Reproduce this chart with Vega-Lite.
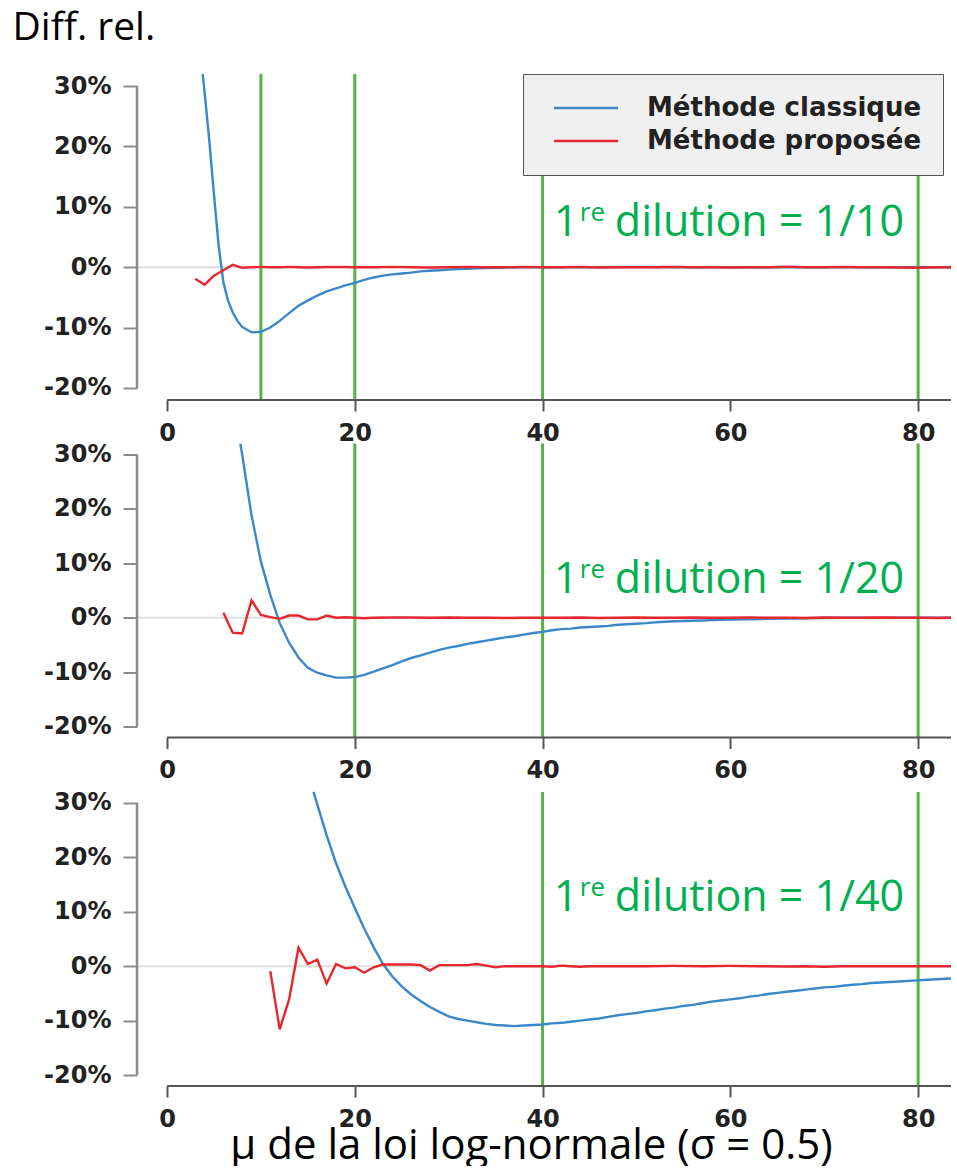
{
 "$schema": "https://vega.github.io/schema/vega-lite/v6.json",
 "background": "white",
 "padding": {"left": 12, "top": 8, "right": 0, "bottom": 0},
 "spacing": 43.5,
 "bounds": "flush",
 "resolve": {"scale": {"x": "independent", "y": "independent", "color": "independent"}},
 "datasets": {
  "c1": [
   {"methode":"Méthode classique","mu":3.8,"diff":32},{"methode":"Méthode classique","mu":4,"diff":29},{"methode":"Méthode classique","mu":4.5,"diff":21},{"methode":"Méthode classique","mu":5,"diff":12},{"methode":"Méthode classique","mu":5.5,"diff":3.5},{"methode":"Méthode classique","mu":6,"diff":-2.5},{"methode":"Méthode classique","mu":6.5,"diff":-5.6},{"methode":"Méthode classique","mu":7,"diff":-7.5},{"methode":"Méthode classique","mu":7.5,"diff":-8.9},{"methode":"Méthode classique","mu":8,"diff":-9.9},{"methode":"Méthode classique","mu":9,"diff":-10.8},{"methode":"Méthode classique","mu":10,"diff":-10.7},{"methode":"Méthode classique","mu":11,"diff":-10.0},{"methode":"Méthode classique","mu":12,"diff":-8.9},{"methode":"Méthode classique","mu":13,"diff":-7.6},{"methode":"Méthode classique","mu":14,"diff":-6.4},{"methode":"Méthode classique","mu":15,"diff":-5.5},{"methode":"Méthode classique","mu":16,"diff":-4.7},{"methode":"Méthode classique","mu":17,"diff":-4.0},{"methode":"Méthode classique","mu":18,"diff":-3.5},{"methode":"Méthode classique","mu":19,"diff":-3.0},{"methode":"Méthode classique","mu":20,"diff":-2.6},{"methode":"Méthode classique","mu":21,"diff":-2.1},{"methode":"Méthode classique","mu":22,"diff":-1.7},{"methode":"Méthode classique","mu":23,"diff":-1.4},{"methode":"Méthode classique","mu":24,"diff":-1.2},{"methode":"Méthode classique","mu":25,"diff":-1.05},{"methode":"Méthode classique","mu":26,"diff":-0.9},{"methode":"Méthode classique","mu":27,"diff":-0.7},{"methode":"Méthode classique","mu":28,"diff":-0.6},{"methode":"Méthode classique","mu":29,"diff":-0.5},{"methode":"Méthode classique","mu":30,"diff":-0.4},{"methode":"Méthode classique","mu":31,"diff":-0.3},{"methode":"Méthode classique","mu":32,"diff":-0.25},{"methode":"Méthode classique","mu":33,"diff":-0.2},{"methode":"Méthode classique","mu":34,"diff":-0.15},{"methode":"Méthode classique","mu":35,"diff":-0.1},{"methode":"Méthode classique","mu":36,"diff":-0.05},{"methode":"Méthode classique","mu":38,"diff":0},{"methode":"Méthode classique","mu":40,"diff":0},{"methode":"Méthode classique","mu":44,"diff":0},{"methode":"Méthode classique","mu":50,"diff":0.02},{"methode":"Méthode classique","mu":56,"diff":0},{"methode":"Méthode classique","mu":62,"diff":0},{"methode":"Méthode classique","mu":68,"diff":0},{"methode":"Méthode classique","mu":74,"diff":0},{"methode":"Méthode classique","mu":80,"diff":0},{"methode":"Méthode classique","mu":84,"diff":0},
   {"methode":"Méthode proposée","mu":3,"diff":-1.9},{"methode":"Méthode proposée","mu":4,"diff":-2.9},{"methode":"Méthode proposée","mu":5,"diff":-1.4},{"methode":"Méthode proposée","mu":6,"diff":-0.5},{"methode":"Méthode proposée","mu":7,"diff":0.4},{"methode":"Méthode proposée","mu":8,"diff":-0.1},{"methode":"Méthode proposée","mu":9,"diff":0},{"methode":"Méthode proposée","mu":10,"diff":0.05},{"methode":"Méthode proposée","mu":11,"diff":0},{"methode":"Méthode proposée","mu":12,"diff":0},{"methode":"Méthode proposée","mu":13,"diff":0.05},{"methode":"Méthode proposée","mu":14,"diff":0},{"methode":"Méthode proposée","mu":15,"diff":-0.05},{"methode":"Méthode proposée","mu":16,"diff":0},{"methode":"Méthode proposée","mu":18,"diff":0.05},{"methode":"Méthode proposée","mu":20,"diff":0},{"methode":"Méthode proposée","mu":22,"diff":0},{"methode":"Méthode proposée","mu":24,"diff":0.05},{"methode":"Méthode proposée","mu":26,"diff":0},{"methode":"Méthode proposée","mu":28,"diff":-0.05},{"methode":"Méthode proposée","mu":30,"diff":0},{"methode":"Méthode proposée","mu":32,"diff":0.05},{"methode":"Méthode proposée","mu":34,"diff":0},{"methode":"Méthode proposée","mu":36,"diff":0},{"methode":"Méthode proposée","mu":38,"diff":0.05},{"methode":"Méthode proposée","mu":40,"diff":0},{"methode":"Méthode proposée","mu":42,"diff":0},{"methode":"Méthode proposée","mu":44,"diff":0.05},{"methode":"Méthode proposée","mu":46,"diff":-0.05},{"methode":"Méthode proposée","mu":48,"diff":0},{"methode":"Méthode proposée","mu":50,"diff":0},{"methode":"Méthode proposée","mu":52,"diff":0},{"methode":"Méthode proposée","mu":54,"diff":0.05},{"methode":"Méthode proposée","mu":56,"diff":0},{"methode":"Méthode proposée","mu":58,"diff":0},{"methode":"Méthode proposée","mu":60,"diff":-0.05},{"methode":"Méthode proposée","mu":62,"diff":0},{"methode":"Méthode proposée","mu":64,"diff":0},{"methode":"Méthode proposée","mu":66,"diff":0.1},{"methode":"Méthode proposée","mu":68,"diff":0},{"methode":"Méthode proposée","mu":70,"diff":0},{"methode":"Méthode proposée","mu":72,"diff":0.05},{"methode":"Méthode proposée","mu":74,"diff":0},{"methode":"Méthode proposée","mu":76,"diff":0},{"methode":"Méthode proposée","mu":78,"diff":-0.05},{"methode":"Méthode proposée","mu":80,"diff":-0.1},{"methode":"Méthode proposée","mu":82,"diff":0},{"methode":"Méthode proposée","mu":84,"diff":0}
  ],
  "c2": [
   {"methode":"Méthode classique","mu":7.8,"diff":32},{"methode":"Méthode classique","mu":8,"diff":30},{"methode":"Méthode classique","mu":9,"diff":18.8},{"methode":"Méthode classique","mu":10,"diff":10.3},{"methode":"Méthode classique","mu":11,"diff":4.2},{"methode":"Méthode classique","mu":12,"diff":-1.0},{"methode":"Méthode classique","mu":13,"diff":-4.6},{"methode":"Méthode classique","mu":14,"diff":-7.3},{"methode":"Méthode classique","mu":15,"diff":-9.2},{"methode":"Méthode classique","mu":16,"diff":-10.1},{"methode":"Méthode classique","mu":17,"diff":-10.6},{"methode":"Méthode classique","mu":18,"diff":-11.0},{"methode":"Méthode classique","mu":19,"diff":-11.0},{"methode":"Méthode classique","mu":20,"diff":-10.9},{"methode":"Méthode classique","mu":21,"diff":-10.5},{"methode":"Méthode classique","mu":22,"diff":-9.9},{"methode":"Méthode classique","mu":23,"diff":-9.3},{"methode":"Méthode classique","mu":24,"diff":-8.7},{"methode":"Méthode classique","mu":25,"diff":-8.0},{"methode":"Méthode classique","mu":26,"diff":-7.4},{"methode":"Méthode classique","mu":27,"diff":-6.9},{"methode":"Méthode classique","mu":28,"diff":-6.4},{"methode":"Méthode classique","mu":29,"diff":-5.9},{"methode":"Méthode classique","mu":30,"diff":-5.5},{"methode":"Méthode classique","mu":31,"diff":-5.2},{"methode":"Méthode classique","mu":32,"diff":-4.8},{"methode":"Méthode classique","mu":33,"diff":-4.5},{"methode":"Méthode classique","mu":34,"diff":-4.2},{"methode":"Méthode classique","mu":35,"diff":-3.9},{"methode":"Méthode classique","mu":36,"diff":-3.6},{"methode":"Méthode classique","mu":37,"diff":-3.4},{"methode":"Méthode classique","mu":38,"diff":-3.1},{"methode":"Méthode classique","mu":39,"diff":-2.8},{"methode":"Méthode classique","mu":40,"diff":-2.6},{"methode":"Méthode classique","mu":41,"diff":-2.3},{"methode":"Méthode classique","mu":42,"diff":-2.1},{"methode":"Méthode classique","mu":43,"diff":-2.0},{"methode":"Méthode classique","mu":44,"diff":-1.8},{"methode":"Méthode classique","mu":45,"diff":-1.7},{"methode":"Méthode classique","mu":46,"diff":-1.6},{"methode":"Méthode classique","mu":47,"diff":-1.5},{"methode":"Méthode classique","mu":48,"diff":-1.3},{"methode":"Méthode classique","mu":49,"diff":-1.2},{"methode":"Méthode classique","mu":50,"diff":-1.1},{"methode":"Méthode classique","mu":51,"diff":-1.0},{"methode":"Méthode classique","mu":52,"diff":-0.85},{"methode":"Méthode classique","mu":53,"diff":-0.75},{"methode":"Méthode classique","mu":54,"diff":-0.65},{"methode":"Méthode classique","mu":55,"diff":-0.6},{"methode":"Méthode classique","mu":56,"diff":-0.55},{"methode":"Méthode classique","mu":57,"diff":-0.5},{"methode":"Méthode classique","mu":58,"diff":-0.45},{"methode":"Méthode classique","mu":59,"diff":-0.4},{"methode":"Méthode classique","mu":60,"diff":-0.35},{"methode":"Méthode classique","mu":62,"diff":-0.3},{"methode":"Méthode classique","mu":64,"diff":-0.2},{"methode":"Méthode classique","mu":66,"diff":-0.15},{"methode":"Méthode classique","mu":68,"diff":-0.1},{"methode":"Méthode classique","mu":70,"diff":-0.05},{"methode":"Méthode classique","mu":72,"diff":0},{"methode":"Méthode classique","mu":78,"diff":0},{"methode":"Méthode classique","mu":84,"diff":0},
   {"methode":"Méthode proposée","mu":6,"diff":0.9},{"methode":"Méthode proposée","mu":7,"diff":-2.75},{"methode":"Méthode proposée","mu":8,"diff":-2.9},{"methode":"Méthode proposée","mu":9,"diff":3.2},{"methode":"Méthode proposée","mu":10,"diff":0.5},{"methode":"Méthode proposée","mu":11,"diff":0.1},{"methode":"Méthode proposée","mu":12,"diff":-0.2},{"methode":"Méthode proposée","mu":13,"diff":0.4},{"methode":"Méthode proposée","mu":14,"diff":0.4},{"methode":"Méthode proposée","mu":15,"diff":-0.3},{"methode":"Méthode proposée","mu":16,"diff":-0.3},{"methode":"Méthode proposée","mu":17,"diff":0.4},{"methode":"Méthode proposée","mu":18,"diff":0},{"methode":"Méthode proposée","mu":19,"diff":0.1},{"methode":"Méthode proposée","mu":20,"diff":0},{"methode":"Méthode proposée","mu":21,"diff":-0.1},{"methode":"Méthode proposée","mu":22,"diff":0},{"methode":"Méthode proposée","mu":24,"diff":0.05},{"methode":"Méthode proposée","mu":26,"diff":0.05},{"methode":"Méthode proposée","mu":28,"diff":0},{"methode":"Méthode proposée","mu":30,"diff":0.05},{"methode":"Méthode proposée","mu":32,"diff":0},{"methode":"Méthode proposée","mu":34,"diff":0},{"methode":"Méthode proposée","mu":36,"diff":-0.05},{"methode":"Méthode proposée","mu":38,"diff":0},{"methode":"Méthode proposée","mu":40,"diff":0},{"methode":"Méthode proposée","mu":42,"diff":0},{"methode":"Méthode proposée","mu":44,"diff":0.05},{"methode":"Méthode proposée","mu":46,"diff":-0.05},{"methode":"Méthode proposée","mu":48,"diff":0},{"methode":"Méthode proposée","mu":50,"diff":0.05},{"methode":"Méthode proposée","mu":52,"diff":0},{"methode":"Méthode proposée","mu":54,"diff":0},{"methode":"Méthode proposée","mu":56,"diff":0.05},{"methode":"Méthode proposée","mu":58,"diff":0},{"methode":"Méthode proposée","mu":60,"diff":0},{"methode":"Méthode proposée","mu":62,"diff":0.05},{"methode":"Méthode proposée","mu":64,"diff":0},{"methode":"Méthode proposée","mu":66,"diff":0},{"methode":"Méthode proposée","mu":68,"diff":-0.05},{"methode":"Méthode proposée","mu":70,"diff":0.05},{"methode":"Méthode proposée","mu":72,"diff":0},{"methode":"Méthode proposée","mu":74,"diff":0},{"methode":"Méthode proposée","mu":76,"diff":0.05},{"methode":"Méthode proposée","mu":78,"diff":0},{"methode":"Méthode proposée","mu":80,"diff":0},{"methode":"Méthode proposée","mu":82,"diff":-0.05},{"methode":"Méthode proposée","mu":84,"diff":0}
  ],
  "c3": [
   {"methode":"Méthode classique","mu":15.6,"diff":32},{"methode":"Méthode classique","mu":16,"diff":29.7},{"methode":"Méthode classique","mu":17,"diff":24},{"methode":"Méthode classique","mu":18,"diff":18.9},{"methode":"Méthode classique","mu":19,"diff":14.6},{"methode":"Méthode classique","mu":20,"diff":10.7},{"methode":"Méthode classique","mu":21,"diff":6.9},{"methode":"Méthode classique","mu":22,"diff":3.5},{"methode":"Méthode classique","mu":23,"diff":0.4},{"methode":"Méthode classique","mu":24,"diff":-1.9},{"methode":"Méthode classique","mu":25,"diff":-3.7},{"methode":"Méthode classique","mu":26,"diff":-5.2},{"methode":"Méthode classique","mu":27,"diff":-6.4},{"methode":"Méthode classique","mu":28,"diff":-7.5},{"methode":"Méthode classique","mu":29,"diff":-8.4},{"methode":"Méthode classique","mu":30,"diff":-9.2},{"methode":"Méthode classique","mu":31,"diff":-9.7},{"methode":"Méthode classique","mu":32,"diff":-10.0},{"methode":"Méthode classique","mu":33,"diff":-10.3},{"methode":"Méthode classique","mu":34,"diff":-10.6},{"methode":"Méthode classique","mu":35,"diff":-10.8},{"methode":"Méthode classique","mu":36,"diff":-10.9},{"methode":"Méthode classique","mu":37,"diff":-11.0},{"methode":"Méthode classique","mu":38,"diff":-10.9},{"methode":"Méthode classique","mu":39,"diff":-10.8},{"methode":"Méthode classique","mu":40,"diff":-10.7},{"methode":"Méthode classique","mu":41,"diff":-10.5},{"methode":"Méthode classique","mu":42,"diff":-10.4},{"methode":"Méthode classique","mu":43,"diff":-10.2},{"methode":"Méthode classique","mu":44,"diff":-10.0},{"methode":"Méthode classique","mu":45,"diff":-9.8},{"methode":"Méthode classique","mu":46,"diff":-9.6},{"methode":"Méthode classique","mu":47,"diff":-9.3},{"methode":"Méthode classique","mu":48,"diff":-9.0},{"methode":"Méthode classique","mu":49,"diff":-8.8},{"methode":"Méthode classique","mu":50,"diff":-8.6},{"methode":"Méthode classique","mu":51,"diff":-8.3},{"methode":"Méthode classique","mu":52,"diff":-8.1},{"methode":"Méthode classique","mu":53,"diff":-7.8},{"methode":"Méthode classique","mu":54,"diff":-7.6},{"methode":"Méthode classique","mu":55,"diff":-7.3},{"methode":"Méthode classique","mu":56,"diff":-7.1},{"methode":"Méthode classique","mu":57,"diff":-6.8},{"methode":"Méthode classique","mu":58,"diff":-6.5},{"methode":"Méthode classique","mu":59,"diff":-6.3},{"methode":"Méthode classique","mu":60,"diff":-6.1},{"methode":"Méthode classique","mu":61,"diff":-5.9},{"methode":"Méthode classique","mu":62,"diff":-5.6},{"methode":"Méthode classique","mu":63,"diff":-5.4},{"methode":"Méthode classique","mu":64,"diff":-5.1},{"methode":"Méthode classique","mu":65,"diff":-4.9},{"methode":"Méthode classique","mu":66,"diff":-4.7},{"methode":"Méthode classique","mu":67,"diff":-4.5},{"methode":"Méthode classique","mu":68,"diff":-4.3},{"methode":"Méthode classique","mu":69,"diff":-4.1},{"methode":"Méthode classique","mu":70,"diff":-3.9},{"methode":"Méthode classique","mu":71,"diff":-3.8},{"methode":"Méthode classique","mu":72,"diff":-3.6},{"methode":"Méthode classique","mu":73,"diff":-3.4},{"methode":"Méthode classique","mu":74,"diff":-3.3},{"methode":"Méthode classique","mu":75,"diff":-3.1},{"methode":"Méthode classique","mu":76,"diff":-3.0},{"methode":"Méthode classique","mu":77,"diff":-2.9},{"methode":"Méthode classique","mu":78,"diff":-2.8},{"methode":"Méthode classique","mu":79,"diff":-2.7},{"methode":"Méthode classique","mu":80,"diff":-2.6},{"methode":"Méthode classique","mu":81,"diff":-2.5},{"methode":"Méthode classique","mu":82,"diff":-2.4},{"methode":"Méthode classique","mu":83,"diff":-2.3},{"methode":"Méthode classique","mu":84,"diff":-2.2},
   {"methode":"Méthode proposée","mu":11,"diff":-0.9},{"methode":"Méthode proposée","mu":12,"diff":-11.6},{"methode":"Méthode proposée","mu":13,"diff":-6.1},{"methode":"Méthode proposée","mu":14,"diff":3.4},{"methode":"Méthode proposée","mu":15,"diff":0.4},{"methode":"Méthode proposée","mu":16,"diff":1.2},{"methode":"Méthode proposée","mu":17,"diff":-3.2},{"methode":"Méthode proposée","mu":18,"diff":0.4},{"methode":"Méthode proposée","mu":19,"diff":-0.4},{"methode":"Méthode proposée","mu":20,"diff":-0.2},{"methode":"Méthode proposée","mu":21,"diff":-1.2},{"methode":"Méthode proposée","mu":22,"diff":-0.2},{"methode":"Méthode proposée","mu":23,"diff":0.3},{"methode":"Méthode proposée","mu":24,"diff":0.3},{"methode":"Méthode proposée","mu":25,"diff":0.3},{"methode":"Méthode proposée","mu":26,"diff":0.3},{"methode":"Méthode proposée","mu":27,"diff":0.2},{"methode":"Méthode proposée","mu":28,"diff":-0.8},{"methode":"Méthode proposée","mu":29,"diff":0.2},{"methode":"Méthode proposée","mu":30,"diff":0.2},{"methode":"Méthode proposée","mu":31,"diff":0.2},{"methode":"Méthode proposée","mu":32,"diff":0.2},{"methode":"Méthode proposée","mu":33,"diff":0.4},{"methode":"Méthode proposée","mu":34,"diff":0.1},{"methode":"Méthode proposée","mu":35,"diff":-0.2},{"methode":"Méthode proposée","mu":36,"diff":0},{"methode":"Méthode proposée","mu":38,"diff":0},{"methode":"Méthode proposée","mu":40,"diff":0},{"methode":"Méthode proposée","mu":41,"diff":-0.1},{"methode":"Méthode proposée","mu":42,"diff":0.1},{"methode":"Méthode proposée","mu":43,"diff":0},{"methode":"Méthode proposée","mu":44,"diff":-0.1},{"methode":"Méthode proposée","mu":45,"diff":0},{"methode":"Méthode proposée","mu":48,"diff":0},{"methode":"Méthode proposée","mu":51,"diff":0},{"methode":"Méthode proposée","mu":54,"diff":0.05},{"methode":"Méthode proposée","mu":57,"diff":0},{"methode":"Méthode proposée","mu":60,"diff":0.05},{"methode":"Méthode proposée","mu":63,"diff":0},{"methode":"Méthode proposée","mu":66,"diff":-0.05},{"methode":"Méthode proposée","mu":68,"diff":0},{"methode":"Méthode proposée","mu":70,"diff":-0.1},{"methode":"Méthode proposée","mu":72,"diff":0},{"methode":"Méthode proposée","mu":76,"diff":0},{"methode":"Méthode proposée","mu":80,"diff":0},{"methode":"Méthode proposée","mu":84,"diff":0}
  ],
  "v1": [{"mu":10},{"mu":20},{"mu":40},{"mu":80}],
  "v2": [{"mu":20},{"mu":40},{"mu":80}],
  "v3": [{"mu":40},{"mu":80}]
 },
 "vconcat": [
  {
   "width": 814, "height": 326,
   "layer": [
    {"data": {"values": [{}]}, "mark": {"type": "rule", "color": "#dedede", "strokeWidth": 2}, "encoding": {"y": {"datum": 0}}},
    {"data": {"name": "v1"}, "mark": {"type": "rule", "color": "#55b246", "strokeWidth": 3}, "encoding": {"x": {"field": "mu", "type": "quantitative"}, "y": {"datum": 32}, "y2": {"datum": -22}}},
    {"data": {"name": "c1"}, "mark": {"type": "line", "strokeWidth": 2.4, "clip": true},
     "encoding": {
      "x": {"field": "mu", "type": "quantitative", "scale": {"domain": [-3.2, 83.5], "nice": false, "zero": false}, "axis": {"values": [0, 20, 40, 60, 80], "title": null}},
      "y": {"field": "diff", "type": "quantitative", "scale": {"domain": [-22, 32], "nice": false, "zero": false}, "axis": {"values": [-20, -10, 0, 10, 20, 30], "labelExpr": "datum.value + '%'", "title": "Diff. rel.", "titleAngle": 0, "titleX": -125, "titleY": -35, "titleAlign": "left", "titleBaseline": "alphabetic", "titleFont": "Open Sans", "titleFontSize": 39, "titleFontWeight": "normal", "titleColor": "#000000"}},
      "color": {"field": "methode", "type": "nominal", "scale": {"domain": ["Méthode classique", "Méthode proposée"], "range": ["#3a88c8", "#e8262e"]},
       "legend": {"orient": "none", "legendX": 386, "legendY": 0, "title": null, "fillColor": "#f0f0f0", "strokeColor": "#555555", "padding": 21, "symbolType": "M-3,0H3", "symbolSize": 455, "symbolStrokeWidth": 2.5, "symbolOffset": 29, "labelOffset": 48, "labelFont": "DejaVu Sans", "labelFontWeight": "bold", "labelFontSize": 26, "labelColor": "#222222", "rowPadding": 7, "labelLimit": 400}}
     }},
    {"data": {"values": [{}]}, "mark": {"type": "rule", "color": "#8c8c8c", "strokeWidth": 2.5}, "encoding": {"x": {"datum": -3.2}, "y": {"datum": -20}, "y2": {"datum": 30}}},
    {"data": {"values": [{}]}, "mark": {"type": "rule", "color": "#555555", "strokeWidth": 1.8}, "encoding": {"x": {"datum": 0}, "x2": {"datum": 83.5}, "y": {"datum": -22}}},
    {"data": {"values": [{}]}, "mark": {"type": "text", "text": "1", "font": "Open Sans", "fontSize": 43, "color": "#00b050", "align": "left", "baseline": "alphabetic"}, "encoding": {"x": {"datum": 41.2}, "y": {"datum": 5.13}}},
    {"data": {"values": [{}]}, "mark": {"type": "text", "text": "re", "font": "Open Sans", "fontSize": 26, "color": "#00b050", "align": "left", "baseline": "alphabetic", "dx": 26, "dy": -15}, "encoding": {"x": {"datum": 41.2}, "y": {"datum": 5.13}}},
    {"data": {"values": [{}]}, "mark": {"type": "text", "text": "dilution = 1/10", "font": "Open Sans", "fontSize": 43, "color": "#00b050", "align": "left", "baseline": "alphabetic", "dx": 61}, "encoding": {"x": {"datum": 41.2}, "y": {"datum": 5.13}}}
   ]
  },
  {
   "width": 814, "height": 294,
   "layer": [
    {"data": {"values": [{}]}, "mark": {"type": "rule", "color": "#dedede", "strokeWidth": 2}, "encoding": {"y": {"datum": 0}}},
    {"data": {"name": "v2"}, "mark": {"type": "rule", "color": "#55b246", "strokeWidth": 3}, "encoding": {"x": {"field": "mu", "type": "quantitative"}, "y": {"datum": 32}, "y2": {"datum": -22}}},
    {"data": {"name": "c2"}, "mark": {"type": "line", "strokeWidth": 2.4, "clip": true},
     "encoding": {
      "x": {"field": "mu", "type": "quantitative", "scale": {"domain": [-3.2, 83.5], "nice": false, "zero": false}, "axis": {"values": [0, 20, 40, 60, 80], "title": null}},
      "y": {"field": "diff", "type": "quantitative", "scale": {"domain": [-22, 32], "nice": false, "zero": false}, "axis": {"values": [-20, -10, 0, 10, 20, 30], "labelExpr": "datum.value + '%'", "title": null}},
      "color": {"field": "methode", "type": "nominal", "scale": {"domain": ["Méthode classique", "Méthode proposée"], "range": ["#3a88c8", "#e8262e"]}, "legend": null}
     }},
    {"data": {"values": [{}]}, "mark": {"type": "rule", "color": "#8c8c8c", "strokeWidth": 2.5}, "encoding": {"x": {"datum": -3.2}, "y": {"datum": -20}, "y2": {"datum": 30}}},
    {"data": {"values": [{}]}, "mark": {"type": "rule", "color": "#555555", "strokeWidth": 1.8}, "encoding": {"x": {"datum": 0}, "x2": {"datum": 83.5}, "y": {"datum": -22}}},
    {"data": {"values": [{}]}, "mark": {"type": "text", "text": "1", "font": "Open Sans", "fontSize": 43, "color": "#00b050", "align": "left", "baseline": "alphabetic"}, "encoding": {"x": {"datum": 41.2}, "y": {"datum": 4.6}}},
    {"data": {"values": [{}]}, "mark": {"type": "text", "text": "re", "font": "Open Sans", "fontSize": 26, "color": "#00b050", "align": "left", "baseline": "alphabetic", "dx": 26, "dy": -15}, "encoding": {"x": {"datum": 41.2}, "y": {"datum": 4.6}}},
    {"data": {"values": [{}]}, "mark": {"type": "text", "text": "dilution = 1/20", "font": "Open Sans", "fontSize": 43, "color": "#00b050", "align": "left", "baseline": "alphabetic", "dx": 61}, "encoding": {"x": {"datum": 41.2}, "y": {"datum": 4.6}}}
   ]
  },
  {
   "width": 814, "height": 305,
   "layer": [
    {"data": {"values": [{}]}, "mark": {"type": "rule", "color": "#dedede", "strokeWidth": 2}, "encoding": {"y": {"datum": 0}}},
    {"data": {"name": "v3"}, "mark": {"type": "rule", "color": "#55b246", "strokeWidth": 3}, "encoding": {"x": {"field": "mu", "type": "quantitative"}, "y": {"datum": 32}, "y2": {"datum": -22}}},
    {"data": {"name": "c3"}, "mark": {"type": "line", "strokeWidth": 2.4, "clip": true},
     "encoding": {
      "x": {"field": "mu", "type": "quantitative", "scale": {"domain": [-3.2, 83.5], "nice": false, "zero": false}, "axis": {"values": [0, 20, 40, 60, 80], "title": "μ de la loi log-normale (σ = 0.5)", "titleX": 394, "titleY": 72, "titleAlign": "center", "titleBaseline": "alphabetic", "titleFont": "Open Sans", "titleFontSize": 42, "titleFontWeight": "normal", "titleColor": "#000000"}},
      "y": {"field": "diff", "type": "quantitative", "scale": {"domain": [-22, 34], "nice": false, "zero": false}, "axis": {"values": [-20, -10, 0, 10, 20, 30], "labelExpr": "datum.value + '%'", "title": null}},
      "color": {"field": "methode", "type": "nominal", "scale": {"domain": ["Méthode classique", "Méthode proposée"], "range": ["#3a88c8", "#e8262e"]}, "legend": null}
     }},
    {"data": {"values": [{}]}, "mark": {"type": "rule", "color": "#8c8c8c", "strokeWidth": 2.5}, "encoding": {"x": {"datum": -3.2}, "y": {"datum": -20}, "y2": {"datum": 30}}},
    {"data": {"values": [{}]}, "mark": {"type": "rule", "color": "#555555", "strokeWidth": 1.8}, "encoding": {"x": {"datum": 0}, "x2": {"datum": 83.5}, "y": {"datum": -22}}},
    {"data": {"values": [{}]}, "mark": {"type": "text", "text": "1", "font": "Open Sans", "fontSize": 43, "color": "#00b050", "align": "left", "baseline": "alphabetic"}, "encoding": {"x": {"datum": 41.2}, "y": {"datum": 10.1}}},
    {"data": {"values": [{}]}, "mark": {"type": "text", "text": "re", "font": "Open Sans", "fontSize": 26, "color": "#00b050", "align": "left", "baseline": "alphabetic", "dx": 26, "dy": -15}, "encoding": {"x": {"datum": 41.2}, "y": {"datum": 10.1}}},
    {"data": {"values": [{}]}, "mark": {"type": "text", "text": "dilution = 1/40", "font": "Open Sans", "fontSize": 43, "color": "#00b050", "align": "left", "baseline": "alphabetic", "dx": 61}, "encoding": {"x": {"datum": 41.2}, "y": {"datum": 10.1}}}
   ]
  }
 ],
 "config": {
  "view": {"stroke": null},
  "axis": {"grid": false, "domain": false, "labelFont": "DejaVu Sans", "labelFontWeight": "bold", "labelFontSize": 24, "labelColor": "#222222"},
  "axisY": {"tickSize": 14, "tickWidth": 2, "tickColor": "#8c8c8c", "labelPadding": 12},
  "axisX": {"tickSize": 11, "tickWidth": 2, "tickColor": "#555555", "labelPadding": 10}
 }
}
